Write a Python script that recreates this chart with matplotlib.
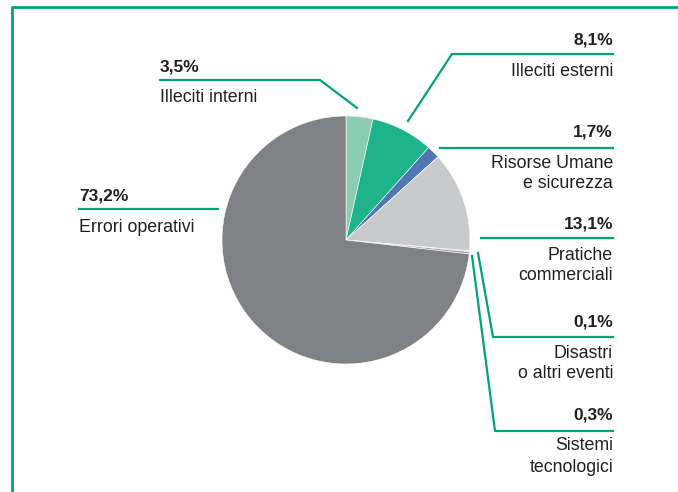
import matplotlib.pyplot as plt

plt.rcParams['font.family'] = ['Liberation Sans', 'DejaVu Sans']

categories = ["Illeciti interni", "Illeciti esterni", "Risorse Umane\ne sicurezza",
              "Pratiche\ncommerciali", "Disastri\no altri eventi", "Sistemi\ntecnologici",
              "Errori operativi"]
shares = [3.5, 8.1, 1.7, 13.1, 0.1, 0.3, 73.2]
pct_labels = ["3,5%", "8,1%", "1,7%", "13,1%", "0,1%", "0,3%", "73,2%"]
colors = ["#8acdb2", "#1db48c", "#4f77b3", "#c9cacc", "#b0b1b3", "#a0a1a4", "#808184"]

W, H = 678, 492
GREEN = "#00a37a"


def Y(y):
    return H - y


fig = plt.figure(figsize=(W / 100, H / 100), dpi=100)
ax = fig.add_axes([0, 0, 1, 1])

# frame (left + top)
ax.plot([12, 12, W], [0, Y(7), Y(7)], color=GREEN, lw=2, solid_capstyle='butt')

ax.pie(shares, colors=colors, startangle=90, counterclock=False,
       center=(346, Y(240)), radius=124, frame=True,
       wedgeprops=dict(linewidth=0.4, edgecolor='white'))
ax.set_xlim(0, W)
ax.set_ylim(0, H)
ax.set_aspect('equal')
ax.axis('off')

# leader lines (pixel coords from the reference)
leaders = [
    [(160, 80), (320, 80), (357, 108)],
    [(613, 54), (452, 54), (408, 121)],
    [(613, 148), (440, 148)],
    [(613, 238), (481, 238)],
    [(613, 337), (493, 337), (478, 253)],
    [(613, 431), (495, 431), (472, 256)],
    [(79, 209), (218, 209)],
]
for pts in leaders:
    ax.plot([p[0] for p in pts], [Y(p[1]) for p in pts], color=GREEN, lw=1.6)

# label positions: (x, y of percent, align)
label_pos = [(160, 67, 'left'), (613, 40, 'right'), (613, 132, 'right'),
             (613, 224, 'right'), (613, 322, 'right'), (613, 415, 'right'),
             (79, 196, 'left')]
for cat, pct, (x, y, ha) in zip(categories, pct_labels, label_pos):
    ax.text(x, Y(y), pct, ha=ha, va='center', fontsize=12.5, fontweight='bold',
            color='#231f20')
    for i, line in enumerate(cat.split("\n")):
        ax.text(x, Y(y + 31 + i * 21), line, ha=ha, va='center', fontsize=12.8,
                color='#231f20')

fig.savefig("out.png", dpi=100)
